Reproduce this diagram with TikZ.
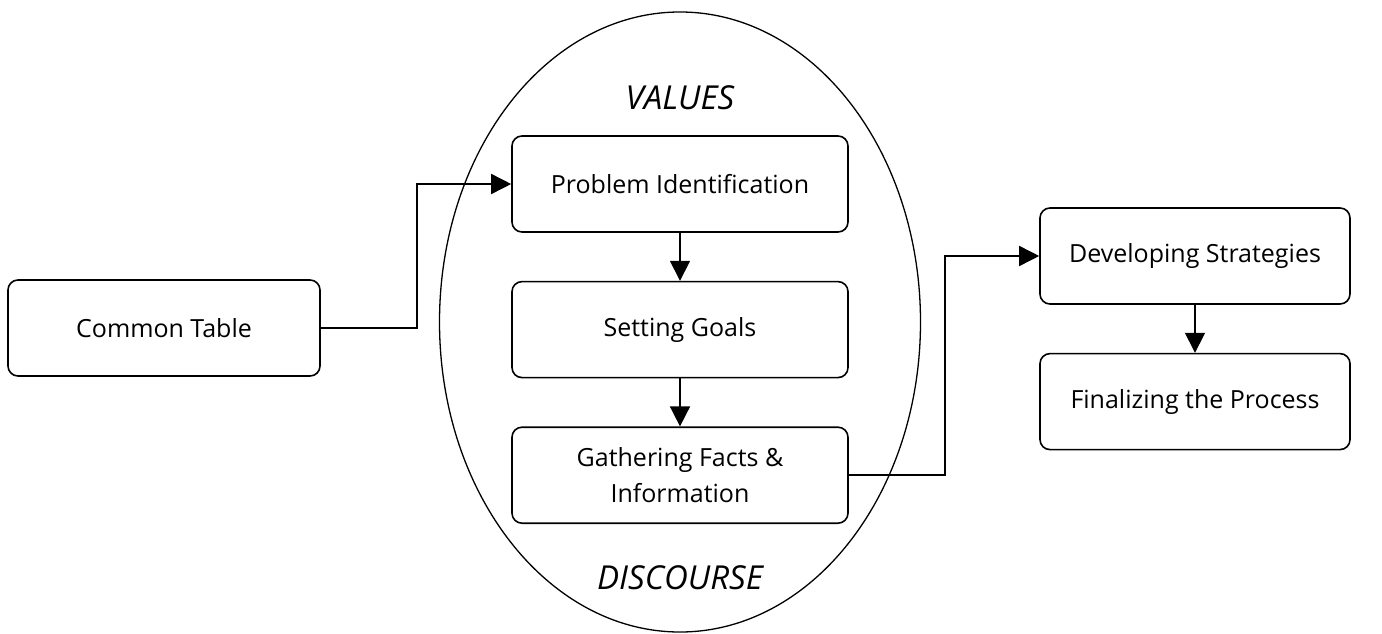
\documentclass[tikz,border=0pt]{standalone}
\usepackage{fontspec}
\setmainfont{Open Sans}
\usetikzlibrary{arrows.meta,positioning,shapes.geometric}

\tikzset{
  step box/.style={draw, line width=1.6pt, rounded corners=10pt,
    minimum height=96pt, align=center, font=\fontsize{25}{36}\selectfont},
  flow/.style={line width=1.6pt, -{Triangle[length=20pt,width=20pt]}},
  ring label/.style={font=\fontsize{33}{38}\selectfont\itshape}
}

\begin{document}
\begin{tikzpicture}[x=1pt, y=-1pt, node distance=48pt]
  \useasboundingbox (0,0) rectangle (1382,634);

  % the big ring around the middle column
  \node[draw, ellipse, line width=1.3pt, minimum width=481pt, minimum height=620pt]
       (ring) at (680,322) {};
  \node[ring label] (values)    at (680,98)  {VALUES};
  \node[ring label] (discourse) at (680,578) {DISCOURSE};

  \node[step box, minimum width=312pt] (common) at (164,328) {Common Table};

  \node[step box, minimum width=336pt] (problem) at (680,184) {Problem Identification};
  \node[step box, minimum width=336pt] (goals)   [below=of problem] {Setting Goals};
  \node[step box, minimum width=336pt] (facts)   [below=of goals]
       {Gathering Facts \&\\Information};

  \node[step box, minimum width=310pt] (strategies) at (1195,256) {Developing Strategies};
  \node[step box, minimum width=310pt] (finalize)   [below=of strategies]
       {Finalizing the Process};

  \draw[flow] (common.east) -- ++(96,0) |- (problem.west);
  \draw[flow] (problem) -- (goals);
  \draw[flow] (goals) -- (facts);
  \draw[flow] (facts.east) -- ++(96,0) |- (strategies.west);
  \draw[flow] (strategies) -- (finalize);
\end{tikzpicture}
\end{document}
